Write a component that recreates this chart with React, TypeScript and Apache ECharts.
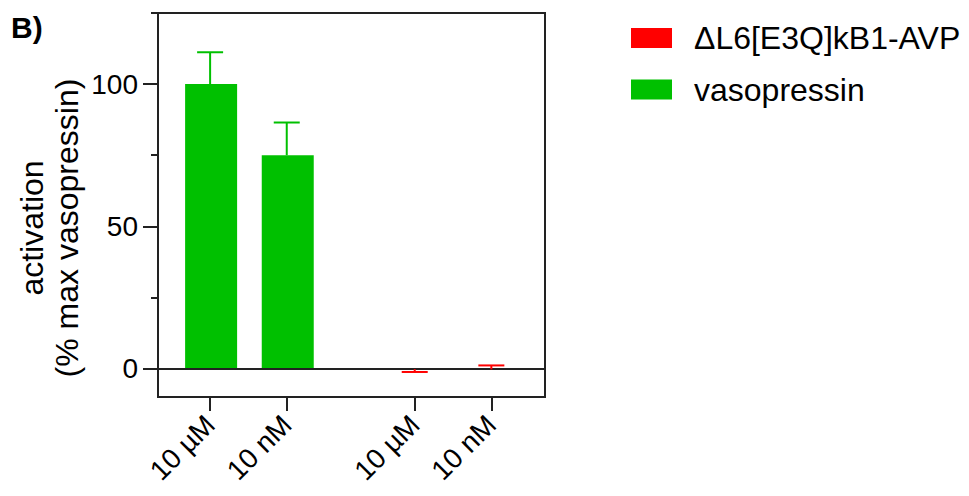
import React, { useEffect, useRef } from "react";
import * as echarts from "echarts";

const categories = ["10 µM", "10 nM", "10 µM", "10 nM"];
const positions = [0.68, 1.68, 3.35, 4.35];
const seriesNames = ["ΔL6[E3Q]kB1-AVP", "vasopressin"];
const vasoMeans = [100, 75];
const vasoErrEnds = [111.2, 86.5];
const peptideMeans = [-0.2, -0.3];
const peptideErrEnds = [-1.2, 1.1];
const yTickValues = [0, 50, 100];
const yMinorTickValues = [25, 75, 125];

const FONT = "Liberation Sans, Arial, Helvetica, sans-serif";
const RED = "#ff0000";
const GREEN = "#00c000";
const AXIS = "#222222";

function errorSeries(color: string, pts: number[][]) {
  return {
    type: "custom",
    silent: true,
    z: 5,
    encode: { x: 0, y: 1 },
    data: pts,
    renderItem: (params: any, api: any) => {
      const x = api.value(0);
      const m = api.value(1);
      const e = api.value(2);
      const p0 = api.coord([x, m]);
      const p1 = api.coord([x, e]);
      const half = 13;
      return {
        type: "group",
        children: [
          {
            type: "line",
            shape: { x1: p0[0], y1: p0[1], x2: p1[0], y2: p1[1] },
            style: { stroke: color, lineWidth: 2 },
          },
          {
            type: "line",
            shape: { x1: p1[0] - half, y1: p1[1], x2: p1[0] + half, y2: p1[1] },
            style: { stroke: color, lineWidth: 2 },
          },
        ],
      };
    },
  };
}

export default function App() {
  const ref = useRef<HTMLDivElement>(null);
  useEffect(() => {
    if (!ref.current) return;
    const chart = echarts.init(ref.current, undefined, { renderer: "svg" });
    const vasoData = vasoMeans.map((v, i) => [positions[i], v]);
    const pepData = peptideMeans.map((v, i) => [positions[i + 2], v]);
    const vasoErr = vasoMeans.map((v, i) => [positions[i], v, vasoErrEnds[i]]);
    const pepErr = peptideMeans.map((v, i) => [positions[i + 2], v, peptideErrEnds[i]]);
    chart.setOption({
      animation: false,
      textStyle: { fontFamily: FONT },
      grid: {
        left: 158,
        top: 13,
        width: 387,
        height: 384,
        show: true,
        borderColor: AXIS,
        borderWidth: 2,
        backgroundColor: "transparent",
      },
      legend: {
        data: seriesNames,
        orient: "vertical",
        left: 631,
        top: 22,
        icon: "rect",
        itemWidth: 41,
        itemHeight: 20,
        itemGap: 19.5,
        padding: 0,
        textStyle: {
          fontSize: 32,
          lineHeight: 32,
          color: "#000",
          fontFamily: FONT,
          padding: [0, 0, 0, 17],
        },
      },
      graphic: [
        {
          type: "text",
          left: 11,
          top: 12,
          style: { text: "B)", fontSize: 30, fontWeight: "bold", fill: "#000", fontFamily: FONT },
        },
        {
          type: "text",
          x: 49,
          y: 228,
          rotation: Math.PI / 2,
          style: {
            text: "activation\n(% max vasopressin)",
            fontSize: 32,
            lineHeight: 35,
            fill: "#000",
            align: "center",
            verticalAlign: "middle",
            fontFamily: FONT,
          },
        },
      ],
      xAxis: {
        type: "value",
        min: 0,
        max: 5.05,
        splitLine: { show: false },
        axisLine: { show: true, onZero: false, lineStyle: { color: AXIS, width: 2 } },
        axisTick: { show: true, customValues: positions, length: 14, lineStyle: { color: AXIS, width: 2 } },
        axisLabel: {
          customValues: positions,
          formatter: (v: number) => {
            const i = positions.findIndex((p) => Math.abs(p - v) < 1e-6);
            return i >= 0 ? categories[i] : "";
          },
          rotate: 45,
          fontSize: 28,
          color: "#000",
          margin: 23,
          fontFamily: FONT,
        },
      },
      yAxis: [
        {
          type: "value",
          min: -10,
          max: 125,
          splitLine: { show: false },
          axisLine: { show: true, lineStyle: { color: AXIS, width: 2 } },
          axisTick: { show: true, customValues: yTickValues, length: 15, lineStyle: { color: AXIS, width: 2 } },
          axisLabel: {
            customValues: yTickValues,
            fontSize: 28,
            color: "#000",
            margin: 20,
            fontFamily: FONT,
          },
        },
        {
          type: "value",
          position: "left",
          min: -10,
          max: 125,
          splitLine: { show: false },
          axisLine: { show: false },
          axisTick: {
            show: true,
            customValues: yMinorTickValues,
            length: 7,
            lineStyle: { color: AXIS, width: 2 },
          },
          axisLabel: { show: false },
        },
      ],
      series: [
        {
          name: seriesNames[1],
          type: "bar",
          barWidth: 52,
          barGap: "-100%",
          itemStyle: { color: GREEN },
          data: vasoData,
          z: 2,
        },
        {
          name: seriesNames[0],
          type: "bar",
          barWidth: 50,
          barGap: "-100%",
          itemStyle: { color: RED },
          data: pepData,
          z: 2,
        },
        errorSeries(GREEN, vasoErr),
        errorSeries(RED, pepErr),
        {
          type: "line",
          data: [],
          silent: true,
          z: 6,
          markLine: {
            silent: true,
            symbol: ["none", "none"],
            label: { show: false },
            lineStyle: { color: AXIS, width: 2, type: "solid" },
            data: [{ yAxis: 0 }],
          },
        },
      ],
    });
    return () => chart.dispose();
  }, []);
  return (
    <div
      ref={ref}
      style={{ position: "fixed", left: 0, top: 0, width: 969, height: 496, background: "#fff" }}
    />
  );
}
